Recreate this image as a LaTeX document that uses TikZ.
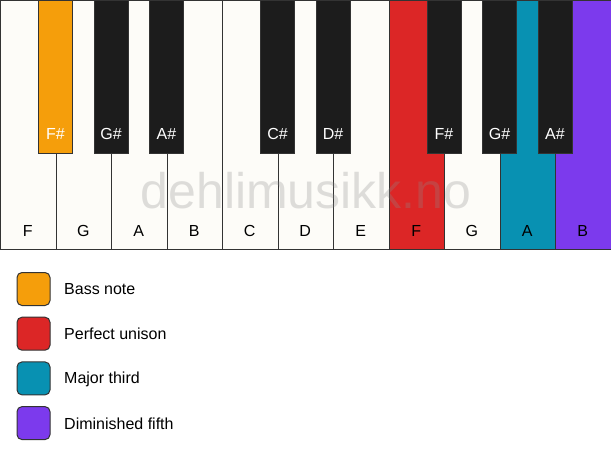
\documentclass[tikz,border=0pt]{standalone}
\usepackage{fontspec}
\setmainfont{Liberation Sans}
\definecolor{wkey}{HTML}{FDFCF8}
\definecolor{bkey}{HTML}{1C1C1C}
\definecolor{edge}{HTML}{333333}
\definecolor{cbass}{HTML}{F59E0B}
\definecolor{cuni}{HTML}{DC2626}
\definecolor{cthird}{HTML}{0891B2}
\definecolor{cfifth}{HTML}{7C3AED}
\begin{document}
\begin{tikzpicture}[x=1pt,y=-1pt,
  whitekey/.style={draw=edge,line width=1pt,fill=wkey,minimum width=55.5pt,minimum height=249pt,inner sep=0pt,anchor=north west},
  blackkey/.style={draw=edge,line width=1pt,fill=bkey,minimum width=34pt,minimum height=153pt,inner sep=0pt,anchor=north},
  wlabel/.style={font=\fontsize{16}{18}\selectfont,text=black},
  blabel/.style={font=\fontsize{16}{18}\selectfont,text=white},
  legbox/.style={draw=edge,line width=1pt,rounded corners=5pt,minimum size=33pt,inner sep=0pt},
  legtext/.style={font=\fontsize{16}{18}\selectfont,anchor=west,inner sep=0pt}]
\useasboundingbox (0,0) rectangle (611,461);
\fill[white] (0,0) rectangle (611,461);
% white keys
\foreach \n/\l/\c [count=\i from 0] in {w1/F/wkey,w2/G/wkey,w3/A/wkey,w4/B/wkey,w5/C/wkey,w6/D/wkey,w7/E/wkey,w8/F/cuni,w9/G/wkey,w10/A/cthird,w11/B/cfifth}{
  \node[whitekey,fill=\c] (\n) at (\i*55.5,0) {};
  \node[wlabel] (\n l) at (\i*55.5+27.75,230.5) {\l};
}
% watermark
\node[font=\fontsize{50}{56}\selectfont,text=black!45,opacity=0.28,anchor=base,inner sep=0pt] (wm) at (306,208) {dehlimusikk.no};
% black keys
\foreach \n/\l/\xx/\c in {b1/F\#/55.5/cbass,b2/G\#/111/bkey,b3/A\#/166.5/bkey,b4/C\#/277.5/bkey,b5/D\#/333/bkey,b6/F\#/444/bkey,b7/G\#/499.5/bkey,b8/A\#/555/bkey}{
  \node[blackkey,fill=\c] (\n) at (\xx,0) {};
  \node[blabel] (\n l) at (\xx,133.5) {\l};
}
% legend
\foreach \n/\c/\t [count=\i from 0] in {l1/cbass/Bass note,l2/cuni/Perfect unison,l3/cthird/Major third,l4/cfifth/Diminished fifth}{
  \node[legbox,fill=\c] (\n) at (33.5,289+\i*44.7) {};
  \node[legtext] (\n t) at (64,289.5+\i*44.7) {\t};
}
\end{tikzpicture}
\end{document}
